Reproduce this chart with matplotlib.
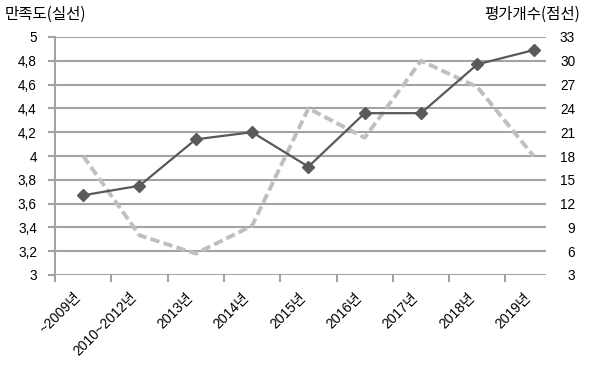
import numpy as np
import matplotlib.pyplot as plt
from matplotlib.ticker import FixedLocator

plt.rcParams['font.family'] = ['Liberation Sans', 'Noto Sans CJK KR']

years = ["~2009년", "2010~2012년", "2013년", "2014년", "2015년",
         "2016년", "2017년", "2018년", "2019년"]
satisfaction = [3.67, 3.75, 4.14, 4.20, 3.91, 4.36, 4.36, 4.77, 4.89]
review_count = [18, 8, 5.7, 9.2, 24, 20.3, 30, 26.7, 18]

left_ticks = [3, 3.2, 3.4, 3.6, 3.8, 4, 4.2, 4.4, 4.6, 4.8, 5]
right_ticks = [3, 6, 9, 12, 15, 18, 21, 24, 27, 30, 33]

grid_c = '#a3a3a3'
x = np.arange(len(years))

fig = plt.figure(figsize=(5.89, 3.65), dpi=100)
ax = fig.add_axes([55 / 589, 1 - 275 / 365, 491 / 589, 238 / 365])
ax2 = ax.twinx()

# gridlines + dashed line live on the back axes, solid line on top
ax2.set_ylim(3, 33)
ax2.set_yticks(right_ticks)
ax2.grid(axis='y', color=grid_c, linewidth=1.5)
ax2.set_axisbelow(True)
ax2.plot(x, review_count, color='#bfbfbf', linewidth=2.8, dashes=(2.4, 1.1),
         zorder=3)
ax2.tick_params(axis='y', length=0, pad=21, labelsize=9.8, colors='black')
for t in ax2.get_yticklabels():
    t.set_horizontalalignment('right')
ax2.tick_params(axis='x', which='both', length=0)

ax.set_zorder(ax2.get_zorder() + 1)
ax.patch.set_visible(False)
ax.plot(x, satisfaction, color='#595959', linewidth=1.6, marker='D',
        markersize=6.5, markerfacecolor='#5a5a5a', markeredgecolor='#5a5a5a',
        zorder=4)
ax.set_ylim(3, 5)
ax.set_yticks(left_ticks)
ax.set_yticklabels([f"{v:g}".replace('.', ',') for v in left_ticks])
ax.tick_params(axis='y', length=5, width=1.5, color=grid_c, pad=8,
               labelsize=9.8)

ax.set_xlim(-0.5, 8.22)
ax.set_xticks(x)
ax.set_xticklabels(years, rotation=45, ha='right', va='top')
ax.xaxis.set_minor_locator(FixedLocator(np.arange(-0.5, 8, 1)))
ax.tick_params(axis='x', which='major', length=0, pad=11, labelsize=10)
ax.tick_params(axis='x', which='minor', length=5, width=1.5, color=grid_c)

for a in (ax, ax2):
    for s in ('top', 'right', 'bottom'):
        a.spines[s].set_visible(False)
ax2.spines['left'].set_visible(False)
ax.spines['left'].set_color(grid_c)
ax.spines['left'].set_linewidth(1.5)

fig.text(5 / 589, 1 - 14 / 365, "만족도(실선)", fontsize=11.2, va='center',
         ha='left', family=['Noto Sans CJK KR'], weight='medium')
fig.text(580 / 589, 1 - 14 / 365, "평가개수(점선)", fontsize=11.2, va='center',
         ha='right', family=['Noto Sans CJK KR'], weight='medium')

fig.savefig('out.png', dpi=100)
